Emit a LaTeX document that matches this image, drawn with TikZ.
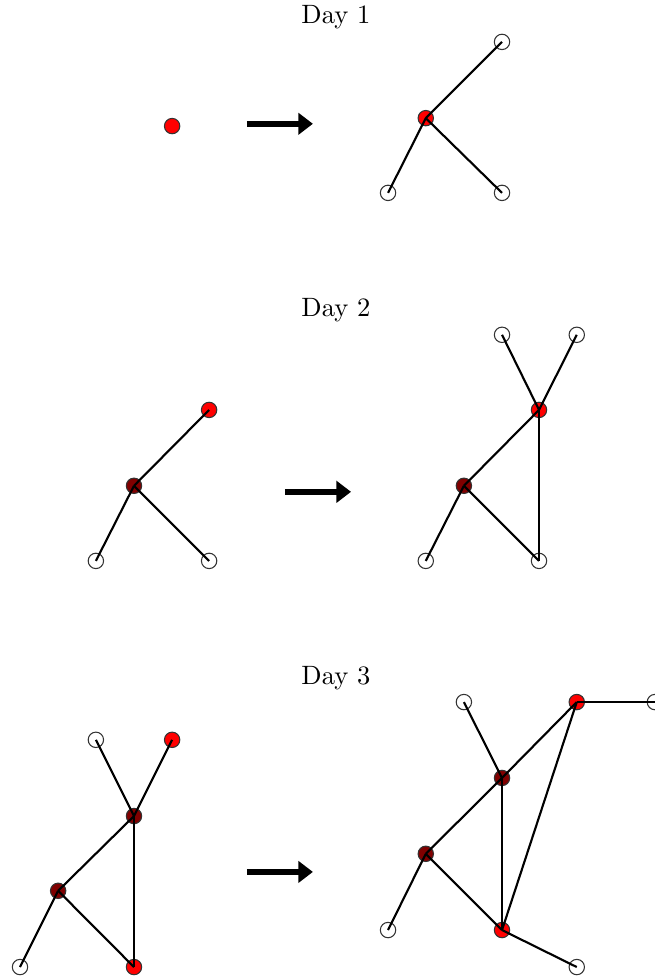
\documentclass[tikz,border=0pt]{standalone}
\usepackage{tikz}
\usetikzlibrary{arrows.meta}

\definecolor{darkred}{rgb}{0.5,0,0}

\tikzset{
  vtx/.style={draw=black!80, circle, inner sep=0pt, minimum size=5.8pt, fill=white},
  newvtx/.style={vtx, fill=red},
  oldvtx/.style={vtx, fill=darkred},
  edge/.style={thick},
  bigarrow/.style={line width=2.2pt, -{Triangle[length=5.5pt,width=8pt]}}
}

\begin{document}
\begin{tikzpicture}[scale=0.5]

        \useasboundingbox (0,0) rectangle (17.35,25.91);

        % Day 1
        \node (t1) at (8.90,25.46) {Day 1};
        \node [newvtx] (d1a) at (4.56,22.57) {};
        \coordinate (ar1s) at (6.54,22.63);
        \coordinate (ar1e) at (8.29,22.63);
        \draw[bigarrow] (ar1s) -- (ar1e);

        \node [newvtx] (d1c) at (11.28,22.78) {};
        \node [vtx] (d1n1) at (13.30,24.80) {};
        \node [vtx] (d1n2) at (10.28,20.80) {};
        \node [vtx] (d1n3) at (13.30,20.80) {};
        \foreach \n in {d1n1,d1n2,d1n3}
          \draw[edge] (d1c.center) -- (\n.center);

        % Day 2
        \node (t2) at (8.90,17.70) {Day 2};
        \node [oldvtx] (d2c) at (3.55,13.04) {};
        \node [newvtx] (d2a) at (5.54,15.05) {};
        \node [vtx] (d2b) at (2.54,11.05) {};
        \node [vtx] (d2d) at (5.54,11.05) {};
        \foreach \n in {d2a,d2b,d2d}
          \draw[edge] (d2c.center) -- (\n.center);

        \coordinate (ar2s) at (7.55,12.88);
        \coordinate (ar2e) at (9.30,12.88);
        \draw[bigarrow] (ar2s) -- (ar2e);

        \node [newvtx] (e2a) at (14.28,15.05) {};
        \node [vtx] (e2p) at (13.30,17.04) {};
        \node [vtx] (e2q) at (15.28,17.04) {};
        \node [oldvtx] (e2c) at (12.29,13.04) {};
        \node [vtx] (e2b) at (11.28,11.05) {};
        \node [vtx] (e2d) at (14.28,11.05) {};
        \foreach \n in {e2p,e2q,e2c,e2d}
          \draw[edge] (e2a.center) -- (\n.center);
        \draw[edge] (e2c.center) -- (e2b.center);
        \draw[edge] (e2c.center) -- (e2d.center);

        % Day 3
        \node (t3) at (8.90,7.95) {Day 3};
        \node [vtx] (d3p) at (2.54,6.31) {};
        \node [newvtx] (d3q) at (4.56,6.31) {};
        \node [oldvtx] (d3a) at (3.55,4.29) {};
        \node [oldvtx] (d3c) at (1.54,2.31) {};
        \node [vtx] (d3b) at (0.53,0.29) {};
        \node [newvtx] (d3d) at (3.55,0.29) {};
        \foreach \n in {d3p,d3q,d3c,d3d}
          \draw[edge] (d3a.center) -- (\n.center);
        \draw[edge] (d3c.center) -- (d3b.center);
        \draw[edge] (d3c.center) -- (d3d.center);

        \coordinate (ar3s) at (6.54,2.81);
        \coordinate (ar3e) at (8.29,2.81);
        \draw[bigarrow] (ar3s) -- (ar3e);

        \node [vtx] (e3p) at (12.29,7.31) {};
        \node [newvtx] (e3q) at (15.28,7.31) {};
        \node [vtx] (e3r) at (17.35,7.31) {};
        \node [oldvtx] (e3a) at (13.30,5.30) {};
        \node [oldvtx] (e3c) at (11.28,3.29) {};
        \node [vtx] (e3b) at (10.28,1.27) {};
        \node [newvtx] (e3d) at (13.30,1.27) {};
        \node [vtx] (e3s) at (15.28,0.29) {};
        \foreach \n in {e3p,e3q,e3c,e3d}
          \draw[edge] (e3a.center) -- (\n.center);
        \draw[edge] (e3q.center) -- (e3r.center);
        \draw[edge] (e3q.center) -- (e3d.center);
        \draw[edge] (e3c.center) -- (e3b.center);
        \draw[edge] (e3c.center) -- (e3d.center);
        \draw[edge] (e3d.center) -- (e3s.center);

\end{tikzpicture}
\end{document}
